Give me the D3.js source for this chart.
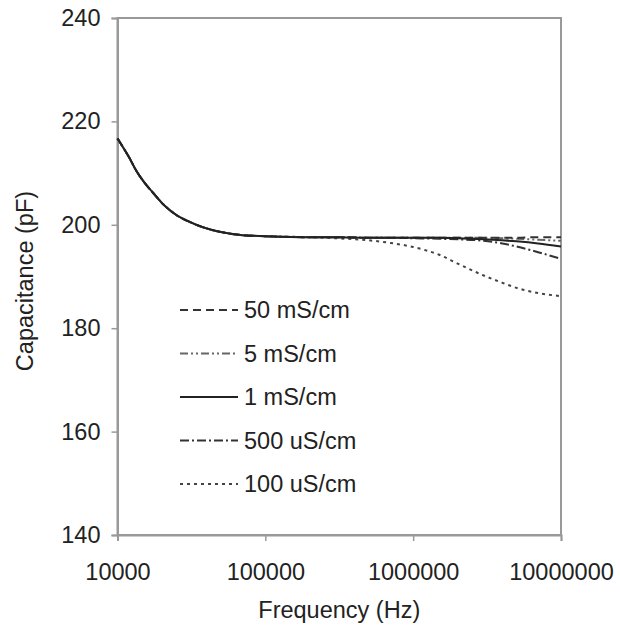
<!DOCTYPE html>
<html>
<head>
<meta charset="utf-8">
<script src="https://cdn.jsdelivr.net/npm/d3@7"></script>
<style>
  body { margin: 0; background: #fff; }
  text { font-family: "Liberation Sans", Arial, sans-serif; fill: #222; }
</style>
</head>
<body>
<div id="chart"></div>
<script>
const freq = [10000, 12000, 13500, 15000, 17500, 20000, 25000, 30000, 40000, 50000, 70000, 100000,
    200000, 300000, 500000, 700000, 1000000, 1500000, 2000000, 3000000, 4000000, 5000000, 7000000, 10000000];

// capacitance (pF) per conductivity
const c50mS = [216.7, 213.0, 210.3, 208.4, 206.1, 204.2, 201.9, 200.7, 199.3, 198.6, 198.0, 197.8,
    197.6, 197.6, 197.5, 197.5, 197.5, 197.5, 197.5, 197.5, 197.5, 197.5, 197.6, 197.6];
const c5mS = [216.7, 213.0, 210.3, 208.4, 206.1, 204.2, 201.9, 200.7, 199.3, 198.6, 198.0, 197.8,
    197.6, 197.6, 197.5, 197.5, 197.5, 197.5, 197.5, 197.5, 197.4, 197.3, 197.1, 196.9];
const c1mS = [216.7, 213.0, 210.3, 208.4, 206.1, 204.2, 201.9, 200.7, 199.3, 198.6, 198.0, 197.8,
    197.6, 197.6, 197.5, 197.5, 197.5, 197.5, 197.4, 197.2, 197.0, 196.8, 196.4, 195.8];
const c500uS = [216.7, 213.0, 210.3, 208.4, 206.1, 204.2, 201.9, 200.7, 199.3, 198.6, 198.0, 197.8,
    197.6, 197.6, 197.5, 197.5, 197.4, 197.3, 197.2, 196.9, 196.4, 195.8, 194.7, 193.4];
const c100uS = [216.7, 213.0, 210.3, 208.4, 206.1, 204.2, 201.9, 200.7, 199.3, 198.6, 198.0, 197.8,
    197.6, 197.4, 197.0, 196.5, 195.7, 194.2, 192.5, 190.2, 188.8, 187.8, 186.8, 186.2];

const seriesNames = ["50 mS/cm", "5 mS/cm", "1 mS/cm", "500 uS/cm", "100 uS/cm"];
const seriesValues = [c50mS, c5mS, c1mS, c500uS, c100uS];
const xTicks = [10000, 100000, 1000000, 10000000];
const yTicks = [140, 160, 180, 200, 220, 240];

// line looks
const dashes = ["8,5", "8,3,2,3,2,3", null, "9,3,2,3", "3,4"];
const colors = ["#333", "#666", "#222", "#333", "#444"];

const width = 620, height = 630;
const plotLeft = 117.5, plotRight = 561, plotTop = 18, plotBottom = 535;

const svg = d3.select("#chart").append("svg")
    .attr("width", width)
    .attr("height", height);

const x = d3.scaleLog().domain([1e4, 1e7]).range([plotLeft, plotRight]);
const y = d3.scaleLinear().domain([140, 240]).range([plotBottom, plotTop]);

// plot box
svg.append("rect")
    .attr("x", plotLeft).attr("y", plotTop)
    .attr("width", plotRight - plotLeft).attr("height", plotBottom - plotTop)
    .attr("fill", "none")
    .attr("stroke", "#999")
    .attr("stroke-width", 2);

// axes
const xAxis = svg.append("g")
    .attr("transform", "translate(0," + plotBottom + ")")
    .call(d3.axisBottom(x).tickValues(xTicks).tickFormat(d3.format("d")).tickSize(6));
const yAxis = svg.append("g")
    .attr("transform", "translate(" + plotLeft + ",0)")
    .call(d3.axisLeft(y).tickValues(yTicks).tickSize(6).tickPadding(11));

[xAxis, yAxis].forEach(a => {
    a.select(".domain").attr("stroke", "#999").attr("stroke-width", 2);
    a.selectAll(".tick line").attr("stroke", "#999").attr("stroke-width", 1.5);
    a.selectAll("text").style("font-size", "23.5px").attr("fill", "#222");
});
xAxis.selectAll("text").attr("dy", "0.35em").attr("y", 37);

// axis titles
svg.append("text")
    .attr("x", (plotLeft + plotRight) / 2)
    .attr("y", 618)
    .attr("text-anchor", "middle")
    .style("font-size", "23.5px")
    .text("Frequency (Hz)");

svg.append("text")
    .attr("transform", "translate(33,281) rotate(-90)")
    .attr("text-anchor", "middle")
    .style("font-size", "23.5px")
    .text("Capacitance (pF)");

// curves
const line = d3.line()
    .x(d => x(d.f))
    .y(d => y(d.c))
    .curve(d3.curveMonotoneX);

const order = [4, 3, 1, 0, 2];
order.forEach(i => {
    const data = freq.map((f, j) => ({ f: f, c: seriesValues[i][j] }));
    svg.append("path")
        .datum(data)
        .attr("fill", "none")
        .attr("stroke", colors[i])
        .attr("stroke-width", 2)
        .attr("stroke-dasharray", dashes[i])
        .attr("d", line);
});

// legend
const legend = svg.append("g");
seriesNames.forEach((name, i) => {
    const ly = 310 + i * 43.5;
    legend.append("line")
        .attr("x1", 180).attr("x2", 238)
        .attr("y1", ly).attr("y2", ly)
        .attr("stroke", colors[i])
        .attr("stroke-width", 2)
        .attr("stroke-dasharray", dashes[i]);
    legend.append("text")
        .attr("x", 244)
        .attr("y", ly)
        .attr("dy", "0.35em")
        .style("font-size", "23.5px")
        .text(name);
});
</script>
</body>
</html>
